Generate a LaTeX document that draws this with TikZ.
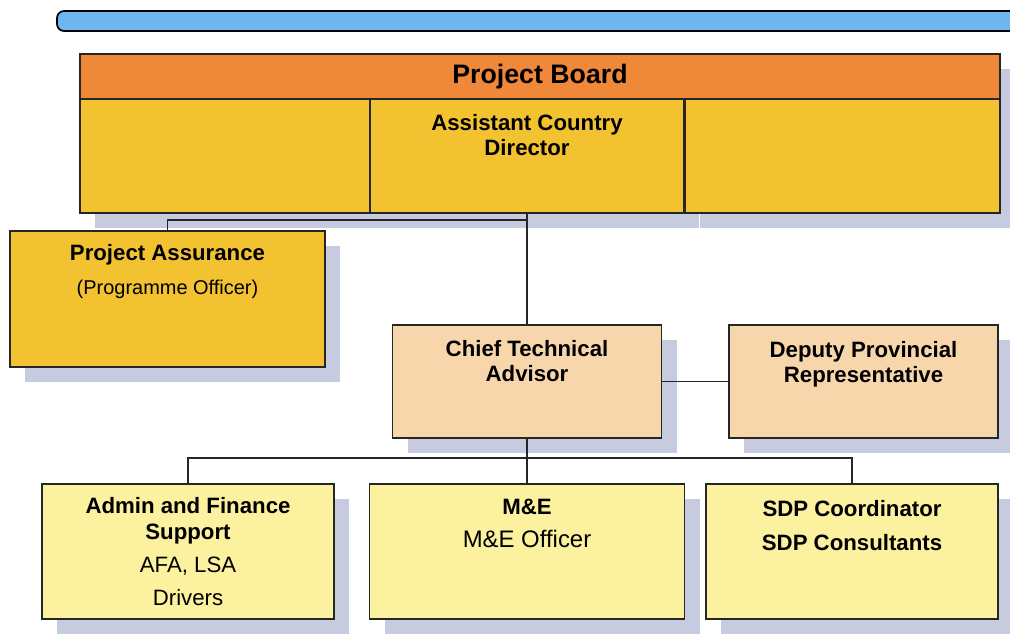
\documentclass[tikz,border=0pt]{standalone}
\usepackage{fontspec}
\setmainfont{Liberation Sans}
\usetikzlibrary{shadows}
\definecolor{barblue}{HTML}{6DB6F2}
\definecolor{boardorange}{HTML}{F0883A}
\definecolor{boardgold}{HTML}{F2C230}
\definecolor{peach}{HTML}{F7D6AC}
\definecolor{paleyellow}{HTML}{FBF19E}
\definecolor{shadowgrey}{HTML}{C6CBE0}
\newcommand\pxu{0.025cm}
\tikzset{
  box/.style 2 args={draw=black!85, line width=1.3pt, inner sep=0pt,
    minimum width=#1*\pxu, minimum height=#2*\pxu,
    drop shadow={shadow xshift=0.375cm, shadow yshift=-0.375cm, fill=shadowgrey, opacity=1}},
  lbl/.style={align=center, inner sep=0pt, font=\fontsize{15.8}{17.8}\selectfont\bfseries},
  link/.style={draw=black!85, line width=1.1pt}
}
\begin{document}
\begin{tikzpicture}[x=0.025cm, y=-0.025cm]
    \useasboundingbox (0,0) rectangle (1010,634);
    % top bar
    \draw[fill=barblue, line width=1.2pt, rounded corners=5pt] (57,11) rectangle (1040,31);

    % project board
    \node[box={920}{46}, fill=boardorange, font=\fontsize{19}{22}\selectfont\bfseries] (pb) at (540,77) {Project Board};
    \node[box={291}{114}, fill=boardgold] (c1) at (225.5,156) {};
    \node[box={314}{114}, fill=boardgold] (c2) at (527,156) {};
    \node[box={315}{114}, fill=boardgold] (c3) at (842.5,156) {};
    \node[lbl] (acd) at (527,135.5) {Assistant Country\\Director};

    % assurance and advisors
    \node[box={315}{136}, fill=boardgold] (pa) at (167.5,299) {};
    \node[lbl] (patext) at (167.5,271.5) {Project Assurance\\[6pt]{\mdseries\fontsize{14.2}{17}\selectfont (Programme Officer)}};
    \node[box={269}{113}, fill=peach] (cta) at (527,381.5) {};
    \node[lbl] (ctatext) at (527,361.5) {Chief Technical\\Advisor};
    \node[box={269}{113}, fill=peach] (dpr) at (863.5,381.5) {};
    \node[lbl] (dprtext) at (863.5,364) {Deputy Provincial\\Representative};

    % teams
    \node[box={292}{135}, fill=paleyellow] (afs) at (188,551.5) {};
    \node[lbl] (afstext) at (188,552) {Admin and Finance\\Support\\[6pt]{\mdseries AFA, LSA}\\[6pt]{\mdseries Drivers}};
    \node[box={315}{135}, fill=paleyellow] (me) at (527,551.5) {};
    \node[lbl] (metext) at (527,523.5) {M\&E\\[6pt]{\mdseries\fontsize{17}{19}\selectfont M\&E Officer}};
    \node[box={292}{135}, fill=paleyellow] (sdp) at (852,551.5) {};
    \node[lbl] (sdptext) at (852,525.5) {SDP Coordinator\\[6pt]SDP Consultants};

    % connectors
    \coordinate (j1) at (527,220);
    \coordinate (j2) at (527,458);
    \draw[link] (c2.south) -- (cta.north);
    \draw[link] (j1) -| (pa.north);
    \draw[link] (cta.east) -- (dpr.west);
    \draw[link] (cta.south) -- (me.north);
    \draw[link] (afs.north) |- (j2) -| (sdp.north);
\end{tikzpicture}
\end{document}
